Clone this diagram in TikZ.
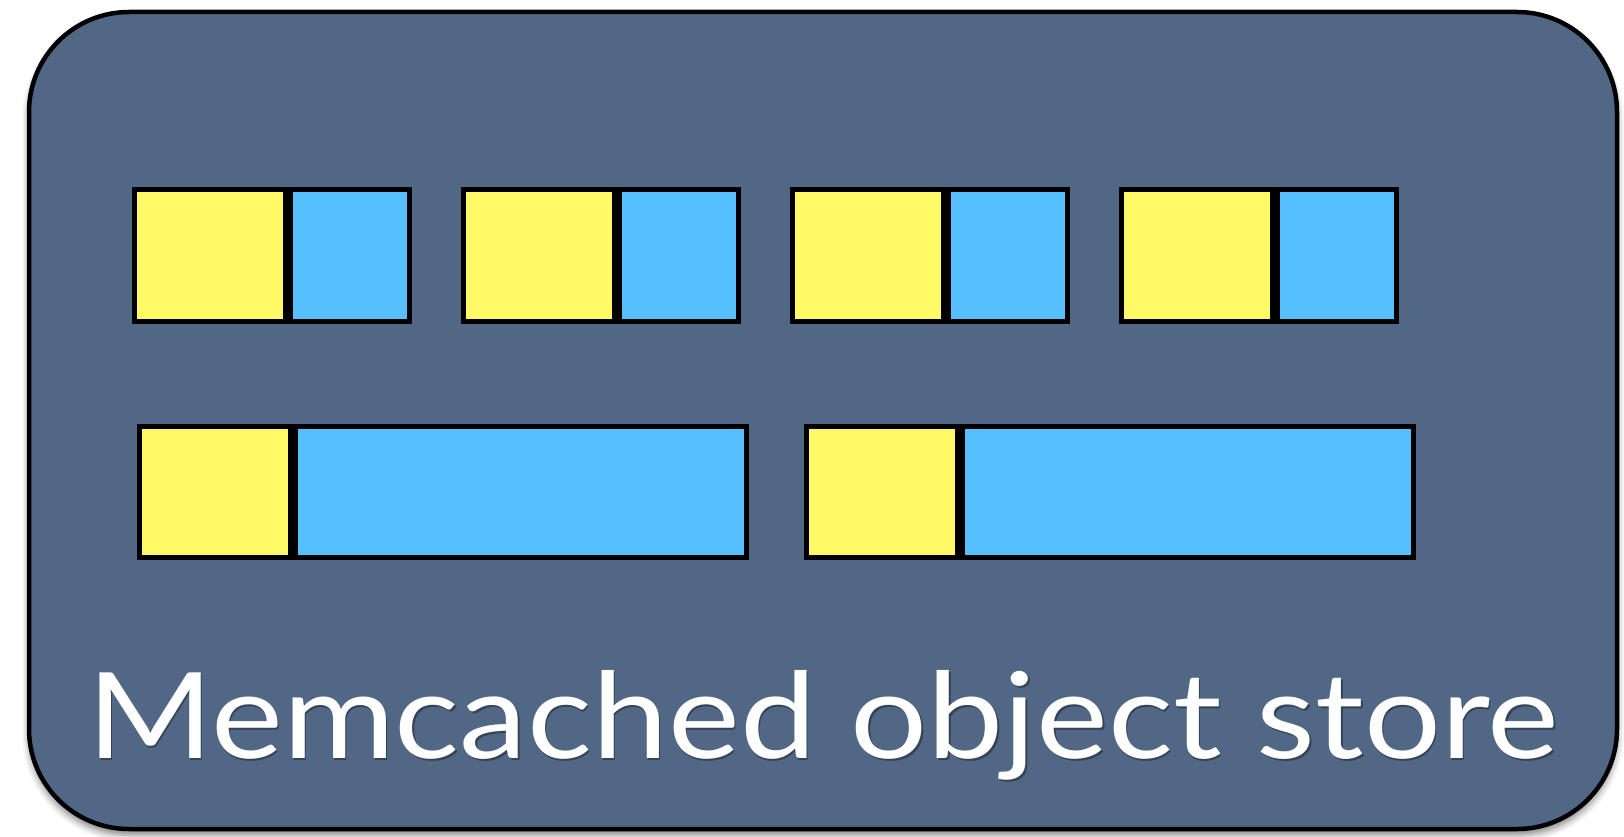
\documentclass[tikz,border=0pt]{standalone}
\usepackage{fontspec}
\setmainfont{Lato}
\usetikzlibrary{shadows.blur}
\definecolor{slate}{RGB}{80,103,133}
\definecolor{keyyellow}{RGB}{255,250,102}
\definecolor{valblue}{RGB}{86,191,255}
\tikzset{
  store/.style={draw=black, line width=4.5pt, fill=slate, rounded corners=100pt,
    blur shadow={shadow xshift=0pt, shadow yshift=-6pt, shadow blur radius=7pt, shadow opacity=50}},
  cell/.style={draw=black, line width=5pt, inner sep=0pt, minimum height=131pt, anchor=north west},
  keycell/.style={cell, fill=keyyellow, minimum width=151pt},
  valcell/.style={cell, fill=valblue},
  caption/.style={text=white, inner sep=0pt, anchor=base west}
}
\newcommand{\captiontext}{\resizebox{1471pt}{88pt}{Memcached object store}}
\begin{document}
\begin{tikzpicture}[x=1pt, y=-1pt]
  \useasboundingbox (0,0) rectangle (1624,837);
  % the object store
  \draw[store] (29,12) rectangle (1617,829);
  % small items: key + value
  \foreach \i/\xl in {1/131.5, 2/460.5, 3/789.5, 4/1118.5} {
    \node[keycell] (k\i) at (\xl,187.5) {};
    \node[valcell, minimum width=119pt] (v\i) at (k\i.north east) {};
  }
  % large items: key + long value
  \foreach \i/\xl in {5/136.7, 6/803.7} {
    \node[keycell] (k\i) at (\xl,423.5) {};
    \node[valcell, minimum width=451pt] (v\i) at (k\i.north east) {};
  }
  % caption with a soft shadow
  \node[caption, text=black, opacity=0.35] (capshadow) at (88.5,760) {\captiontext};
  \node[caption] (cap) at (87,758) {\captiontext};
\end{tikzpicture}
\end{document}
